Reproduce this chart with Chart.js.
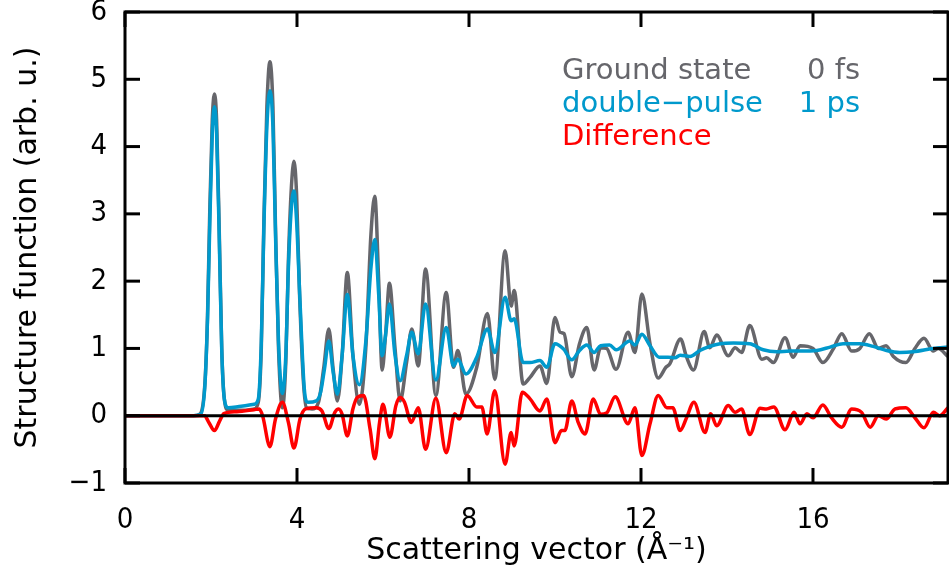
<!DOCTYPE html>
<html>
<head>
<meta charset="utf-8">
<script src="https://cdn.jsdelivr.net/npm/chart.js@4.4.1/dist/chart.umd.min.js"></script>
<style>
  html, body { margin: 0; padding: 0; background: #fff; }
  #wrap { width: 949px; height: 571px; }
</style>
</head>
<body>
<div id="wrap"><canvas id="chart" width="949" height="571"></canvas></div>
<script>
// ── Data ────────────────────────────────────────────────────
// Ground state 0 fs
const groundQ = [0, 1.0, 1.6, 1.75, 1.86, 1.92, 1.97, 2.03, 2.08, 2.13, 2.19, 2.25, 2.31, 2.4, 2.7, 3.0, 3.1, 3.17, 3.23, 3.3, 3.37, 3.44, 3.5, 3.57, 3.66, 3.74, 3.8, 3.87, 3.93, 3.99, 4.06, 4.15, 4.22, 4.35, 4.5, 4.62, 4.74, 4.84, 4.94, 5.05, 5.17, 5.3, 5.45, 5.6, 5.72, 5.81, 5.9, 5.98, 6.06, 6.15, 6.28, 6.4, 6.55, 6.67, 6.82, 6.99, 7.23, 7.47, 7.64, 7.74, 7.93, 8.18, 8.43, 8.6, 8.84, 8.98, 9.05, 9.26, 9.42, 9.65, 9.81, 10.0, 10.12, 10.21, 10.39, 10.57, 10.74, 10.91, 11.06, 11.2, 11.42, 11.7, 11.86, 12.02, 12.21, 12.4, 12.58, 12.67, 12.92, 13.06, 13.22, 13.47, 13.6, 13.76, 14.03, 14.19, 14.34, 14.53, 14.81, 14.92, 15.08, 15.35, 15.54, 15.7, 16.0, 16.23, 16.47, 16.67, 16.9, 17.09, 17.31, 17.52, 17.7, 17.87, 18.16, 18.37, 18.58, 18.8, 18.91, 19.14];
const groundS = [0, 0, 0, 0.03, 0.5, 1.5, 3.0, 4.4, 4.78, 4.4, 2.8, 1.0, 0.25, 0.08, 0.08, 0.1, 0.2, 1.0, 2.9, 4.6, 5.26, 4.6, 2.8, 1.0, 0.12, 0.8, 2.3, 3.4, 3.78, 3.3, 1.8, 0.5, 0.12, 0.1, 0.2, 0.7, 1.29, 0.7, 0.22, 0.9, 2.13, 0.9, 0.17, 1.0, 2.7, 3.26, 2.0, 0.68, 1.2, 1.97, 1.0, 0.22, 0.8, 1.29, 0.74, 2.18, 0.3, 1.83, 0.72, 0.97, 0.32, 0.72, 1.52, 0.54, 2.45, 1.63, 1.86, 0.47, 0.57, 0.74, 0.48, 1.46, 1.24, 1.22, 0.58, 1.07, 1.31, 0.68, 1.01, 1.0, 0.69, 1.24, 0.94, 1.81, 1.07, 0.56, 0.72, 0.77, 1.14, 0.87, 0.68, 1.25, 1.01, 1.2, 0.89, 1.01, 0.94, 1.34, 0.84, 0.86, 0.79, 1.16, 0.87, 1.04, 1.0, 0.79, 0.99, 1.22, 0.96, 1.0, 1.22, 1.0, 1.04, 0.88, 0.79, 1.0, 1.15, 0.96, 1.0, 0.88];

// double-pulse 1 ps
const pulseQ = [0, 1.6, 1.76, 1.86, 1.92, 1.97, 2.03, 2.08, 2.13, 2.19, 2.25, 2.31, 2.4, 2.7, 3.0, 3.1, 3.17, 3.23, 3.3, 3.37, 3.44, 3.5, 3.57, 3.66, 3.74, 3.8, 3.87, 3.93, 3.99, 4.07, 4.17, 4.25, 4.45, 4.55, 4.64, 4.74, 4.84, 4.94, 5.05, 5.17, 5.3, 5.45, 5.6, 5.72, 5.81, 5.9, 5.98, 6.06, 6.15, 6.28, 6.4, 6.55, 6.67, 6.82, 6.99, 7.23, 7.47, 7.64, 7.74, 7.93, 8.18, 8.43, 8.6, 8.84, 8.98, 9.05, 9.26, 9.42, 9.65, 9.81, 10.0, 10.2, 10.39, 10.57, 10.74, 10.91, 11.06, 11.27, 11.42, 11.74, 11.86, 12.02, 12.21, 12.42, 12.63, 12.79, 12.91, 13.14, 13.37, 13.6, 13.84, 14.15, 14.53, 14.84, 15.16, 15.47, 15.7, 16.09, 16.4, 16.7, 17.09, 17.4, 17.71, 18.02, 18.33, 18.8, 19.14];
const pulseS = [0, 0, 0.02, 0.47, 1.46, 2.8, 4.2, 4.59, 4.2, 2.7, 0.97, 0.25, 0.12, 0.14, 0.17, 0.25, 1.1, 2.8, 4.3, 4.83, 4.3, 2.7, 1.1, 0.33, 0.9, 2.2, 3.1, 3.34, 2.9, 1.7, 0.4, 0.2, 0.22, 0.35, 0.7, 1.11, 0.65, 0.32, 0.9, 1.8, 0.9, 0.46, 1.1, 2.2, 2.62, 1.8, 0.89, 1.2, 1.66, 0.9, 0.52, 0.9, 1.24, 0.92, 1.66, 0.53, 1.31, 0.74, 0.84, 0.62, 0.87, 1.29, 0.94, 1.76, 1.41, 1.44, 0.79, 0.79, 0.82, 0.72, 1.07, 0.99, 0.83, 0.97, 1.05, 0.94, 1.04, 1.05, 0.98, 1.11, 1.05, 1.21, 1.04, 0.87, 0.87, 0.86, 0.9, 0.88, 0.97, 1.03, 1.07, 1.08, 1.07, 0.98, 0.95, 0.96, 0.96, 0.97, 1.02, 1.07, 1.07, 1.03, 0.97, 0.94, 0.95, 1.0, 1.02];

// Difference
const diffQ = [0, 1.7, 1.85, 1.95, 2.08, 2.2, 2.3, 2.6, 3.0, 3.12, 3.2, 3.37, 3.5, 3.66, 3.8, 3.93, 4.07, 4.2, 4.45, 4.58, 4.74, 4.88, 4.97, 5.05, 5.17, 5.3, 5.4, 5.55, 5.7, 5.81, 5.92, 6.0, 6.16, 6.3, 6.4, 6.5, 6.66, 6.82, 6.99, 7.23, 7.47, 7.67, 7.77, 7.96, 8.18, 8.3, 8.42, 8.6, 8.84, 8.98, 9.05, 9.24, 9.42, 9.65, 9.81, 10.0, 10.15, 10.23, 10.39, 10.54, 10.7, 10.89, 11.06, 11.2, 11.4, 11.7, 11.86, 12.02, 12.21, 12.4, 12.6, 12.74, 12.91, 13.06, 13.23, 13.49, 13.62, 13.76, 14.03, 14.19, 14.34, 14.53, 14.77, 14.92, 15.09, 15.35, 15.56, 15.7, 15.86, 16.0, 16.23, 16.43, 16.67, 16.9, 17.13, 17.33, 17.52, 17.7, 17.91, 18.16, 18.37, 18.58, 18.8, 18.95, 19.14];
const diffS = [0, 0, 0, -0.1, -0.22, -0.08, 0.03, 0.06, 0.09, 0.1, 0.0, -0.46, -0.05, 0.2, -0.1, -0.48, -0.05, 0.1, 0.12, 0.07, -0.19, 0.05, 0.1, 0.02, -0.3, 0.1, 0.27, 0.3, -0.2, -0.64, -0.1, 0.17, -0.32, 0.15, 0.27, 0.2, -0.1, 0.12, -0.5, 0.26, -0.55, 0.03, -0.05, 0.3, 0.13, 0.13, -0.27, 0.37, -0.72, -0.25, -0.45, 0.35, 0.25, 0.07, 0.25, -0.4, -0.22, -0.22, 0.22, -0.1, -0.27, 0.25, 0.02, 0.04, 0.28, -0.12, 0.12, -0.59, -0.12, 0.3, 0.12, 0.12, -0.22, -0.03, 0.2, -0.25, 0.03, -0.15, 0.15, 0.05, 0.1, -0.28, 0.11, 0.1, 0.13, -0.21, 0.05, -0.12, 0.03, -0.03, 0.16, -0.03, -0.17, 0.1, 0.05, -0.17, 0.0, -0.05, 0.1, 0.12, -0.03, -0.18, 0.05, 0.0, 0.12];

const xTicks = [0, 4, 8, 12, 16];
const yTicks = [-1, 0, 1, 2, 3, 4, 5, 6];
const X_MAX = 19.14;

const GRAY = '#66666b';
const BLUE = '#0099cc';
const RED  = '#ff0000';

const legendLines = [
  { left: 'Ground state', right: '0 fs', color: GRAY },
  { left: 'double\u2212pulse', right: '1 ps', color: BLUE },
  { left: 'Difference', right: '', color: RED },
];

const TICK_FONT = "'DejaVu Sans Condensed', 'Liberation Sans Narrow', 'DejaVu Sans', sans-serif";
const TITLE_FONT = "'DejaVu Sans', 'Noto Sans', sans-serif";
const LEGEND_FONT = "'DejaVu Sans', 'Noto Sans', sans-serif";

// ── Helpers ─────────────────────────────────────────────────
function toPoints(qs, vs) {
  return qs.map((q, i) => ({ x: q, y: vs[i] }));
}

function line(ctx, x1, y1, x2, y2) {
  ctx.beginPath();
  ctx.moveTo(x1, y1);
  ctx.lineTo(x2, y2);
  ctx.stroke();
}

// frame, inward ticks and the zero line
const framePlugin = {
  id: 'frame',
  afterDatasetsDraw(chart) {
    const { ctx, chartArea: a, scales: { x, y } } = chart;
    ctx.save();
    ctx.strokeStyle = '#000';
    ctx.lineWidth = 3;
    const y0 = y.getPixelForValue(0);
    line(ctx, a.left, y0, a.right, y0);
    ctx.strokeRect(a.left, a.top, a.right - a.left, a.bottom - a.top);
    const len = 15;
    yTicks.forEach(v => {
      const p = y.getPixelForValue(v);
      line(ctx, a.left, p, a.left + len, p);
      line(ctx, a.right - len, p, a.right, p);
    });
    xTicks.forEach(v => {
      const p = x.getPixelForValue(v);
      line(ctx, p, a.bottom, p, a.bottom - len);
      line(ctx, p, a.top, p, a.top + len);
    });
    ctx.restore();
  }
};

// text legend in the upper right
const legendPlugin = {
  id: 'textLegend',
  afterDraw(chart) {
    const ctx = chart.ctx;
    ctx.save();
    ctx.font = `29px ${LEGEND_FONT}`;
    ctx.textBaseline = 'middle';
    legendLines.forEach((l, i) => {
      const yy = 71 + i * 33;
      ctx.fillStyle = l.color;
      ctx.textAlign = 'left';
      ctx.fillText(l.left, 562, yy);
      if (l.right) {
        ctx.textAlign = 'right';
        ctx.fillText(l.right, 860, yy);
      }
    });
    ctx.restore();
  }
};

// ── Chart ───────────────────────────────────────────────────
const common = {
  borderWidth: 3.5,
  pointRadius: 0,
  fill: false,
  cubicInterpolationMode: 'monotone',
};

new Chart(document.getElementById('chart'), {
  type: 'line',
  data: {
    datasets: [
      { ...common, label: 'Difference', data: toPoints(diffQ, diffS), borderColor: RED },
      { ...common, label: 'double-pulse 1 ps', data: toPoints(pulseQ, pulseS), borderColor: BLUE },
      { ...common, label: 'Ground state 0 fs', data: toPoints(groundQ, groundS), borderColor: GRAY },
    ]
  },
  options: {
    responsive: false,
    animation: false,
    devicePixelRatio: 1,
    layout: { padding: { top: 12, right: 1, left: 0, bottom: 0 } },
    plugins: {
      legend: { display: false },
      tooltip: { enabled: false },
    },
    scales: {
      x: {
        type: 'linear',
        min: 0,
        max: X_MAX,
        afterFit: s => { s.height = 88; s.paddingLeft = 0; s.paddingRight = 0; },
        afterBuildTicks: s => { s.ticks = xTicks.map(v => ({ value: v })); },
        grid: { display: false, drawTicks: false },
        border: { display: false },
        ticks: {
          padding: 20,
          color: '#000',
          maxRotation: 0,
          font: { family: TICK_FONT, size: 29 },
        },
        title: {
          display: true,
          text: 'Scattering vector (\u00C5\u207B\u00B9)',
          color: '#000',
          font: { family: TITLE_FONT, size: 30 },
          padding: { top: 0, bottom: 2 },
        },
      },
      y: {
        min: -1,
        max: 6,
        afterFit: s => { s.width = 125; s.paddingTop = 0; s.paddingBottom = 0; },
        afterBuildTicks: s => { s.ticks = yTicks.map(v => ({ value: v })); },
        grid: { display: false, drawTicks: false },
        border: { display: false },
        ticks: {
          padding: 18,
          color: '#000',
          font: { family: TICK_FONT, size: 29 },
          callback: v => String(v).replace('-', '\u2212'),
        },
        title: {
          display: true,
          text: 'Structure function (arb. u.)',
          color: '#000',
          font: { family: TITLE_FONT, size: 30 },
          padding: { top: 10, bottom: 0 },
        },
      },
    },
  },
  plugins: [framePlugin, legendPlugin],
});
</script>
</body>
</html>
